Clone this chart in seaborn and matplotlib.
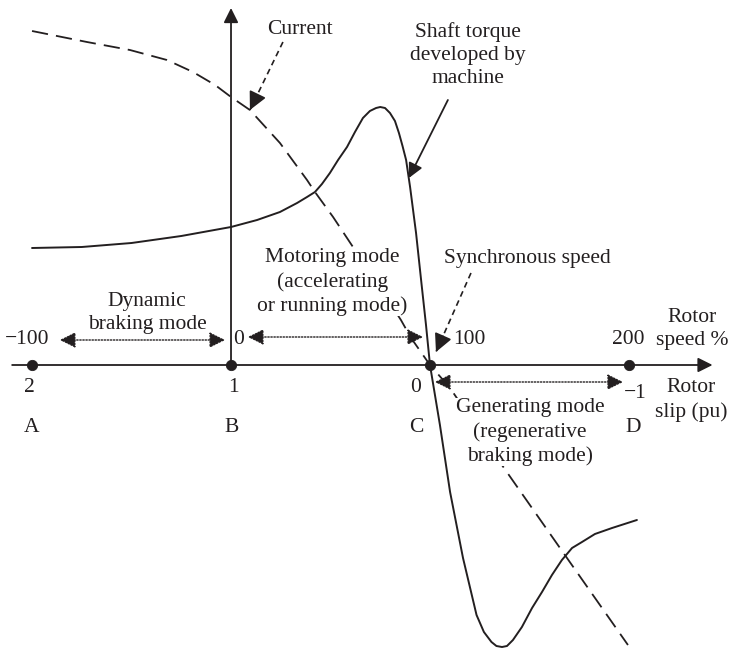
import numpy as np
import pandas as pd
import matplotlib
matplotlib.use('Agg')
import matplotlib.pyplot as plt
import seaborn as sns

# speed axis (% of synchronous) and the matching slip values
speed_ticks = [-100, 0, 100, 200]
speed_labels = ['\u2212100', '0', '100', '200']
slip_labels = ['2', '1', '0', '\u22121']
point_names = ['A', 'B', 'C', 'D']

# shaft torque (speed %, arbitrary units)
torque_speed = [-100, -75, -50, -25, 0, 13.1, 24.6, 33.2, 38.2, 42.2, 45.7, 49.7, 53.8,
                58.3, 62.3, 66.3, 69.8, 72.9, 75.0, 77.4, 79.9, 82.4, 84.4, 86.2, 88.0,
                90.0, 93.0, 95.7, 98.0, 100.0, 105.0, 110.1, 116.6, 123.4, 127.1, 130.9,
                133.4, 136.2, 138.7, 141.7, 146.2, 151.3, 156.3, 161.3, 166.3, 171.4,
                176.4, 182.9, 191.5, 204.0]
torque_value = [1.17, 1.18, 1.22, 1.29, 1.38, 1.45, 1.53, 1.62, 1.68, 1.73, 1.81, 1.92,
                2.05, 2.18, 2.33, 2.47, 2.54, 2.57, 2.58, 2.57, 2.52, 2.44, 2.32, 2.19,
                2.05, 1.78, 1.32, 0.82, 0.40, 0.0, -0.60, -1.27, -1.93, -2.50, -2.67,
                -2.77, -2.81, -2.82, -2.81, -2.75, -2.62, -2.43, -2.27, -2.10, -1.95,
                -1.83, -1.77, -1.69, -1.63, -1.55]

# stator current
current_speed = [-100, -72.4, -50.8, -32.2, -19.1, -8.0, 0, 9.5, 24.6, 38.2, 42.2, 51.3,
                 61.3, 68.3, 85.4, 90.5, 100.0, 110.1, 137.2, 167.8, 199.5]
current_value = [3.34, 3.23, 3.15, 3.05, 2.93, 2.80, 2.68, 2.55, 2.22, 1.85, 1.73, 1.48,
                 1.18, 0.98, 0.45, 0.27, 0.0, -0.23, -1.03, -1.90, -2.80]

torque = pd.DataFrame({'speed': torque_speed, 'value': torque_value})
current = pd.DataFrame({'speed': current_speed, 'value': current_value})
points = pd.DataFrame({'speed': speed_ticks, 'value': [0] * len(speed_ticks)})

sns.set_style('white')
plt.rcParams['font.family'] = ['Liberation Serif', 'DejaVu Serif']
ink = '#231f20'

fig = plt.figure(figsize=(7.36, 6.49), dpi=100)
ax = fig.add_axes([0, 0, 1, 1])
ax.set_xlim(-116.1, 253.8)
ax.set_ylim(-2.84, 3.65)
ax.axis('off')

sns.lineplot(data=torque, x='speed', y='value', sort=False, estimator=None,
             color=ink, lw=1.4, ax=ax, zorder=2)
sns.lineplot(data=current, x='speed', y='value', sort=False, estimator=None,
             color=ink, lw=1.3, ax=ax, zorder=2)
ax.lines[-1].set_dashes((9, 4.5))

# axes with arrow heads
ax.annotate('', xy=(242, 0), xytext=(-110, 0),
            arrowprops=dict(arrowstyle='-|>', color=ink, lw=1.3, mutation_scale=22,
                            shrinkA=0, shrinkB=0))
ax.annotate('', xy=(0, 3.57), xytext=(0, 0),
            arrowprops=dict(arrowstyle='-|>', color=ink, lw=1.3, mutation_scale=22,
                            shrinkA=0, shrinkB=0))
sns.scatterplot(data=points, x='speed', y='value', color=ink, s=55, ax=ax,
                zorder=5, edgecolor=ink)

fs = 15.5
txt = dict(color=ink, fontsize=fs, ha='center', va='center', linespacing=1.3)
box = dict(facecolor='white', edgecolor='none', pad=0.5)

# tick labels along the axis
speed_dx = [-2.5, 4, 20, -0.5]
slip_dx = [-1.5, 1, -7, 3]
slip_dy = [-0.22, -0.22, -0.23, -0.28]
name_dx = [-0.5, 0.5, -7, 2]
for i, v in enumerate(speed_ticks):
    ax.text(v + speed_dx[i], 0.25, speed_labels[i], **txt)
    ax.text(v + slip_dx[i], slip_dy[i], slip_labels[i], **txt)
    ax.text(v + name_dx[i], -0.62, point_names[i], **txt)

ax.text(231.7, 0.36, 'Rotor\nspeed %', **txt)
ax.text(231.2, -0.35, 'Rotor\nslip (pu)', **txt)

# mode regions
ax.text(-42.2, 0.52, 'Dynamic\nbraking mode', bbox=box, zorder=4, **txt)
ax.text(50.8, 0.83, 'Motoring mode\n(accelerating\nor running mode)', bbox=box,
        zorder=4, **txt)
ax.text(150.3, -0.67, 'Generating mode\n(regenerative\nbraking mode)', bbox=box,
        zorder=4, **txt)

dotted = dict(arrowstyle='<|-|>', color=ink, lw=1.0, linestyle=(0, (1, 1.2)),
              mutation_scale=24, shrinkA=0, shrinkB=0)
ax.annotate('', xy=(-3, 0.25), xytext=(-86, 0.25), arrowprops=dotted)
ax.annotate('', xy=(96.5, 0.28), xytext=(8.5, 0.28), arrowprops=dotted)
ax.annotate('', xy=(197, -0.17), xytext=(102.5, -0.17), arrowprops=dotted)


def dashed_callout(x0, y0, x1, y1):
    # dashed shaft plus a solid filled head at the tip
    ax.plot([x0, x1], [y0, y1], color=ink, lw=1.2, dashes=(3.5, 2.5))
    ax.annotate('', xy=(x1, y1), xytext=(x1 + (x0 - x1) * 0.2, y1 + (y0 - y1) * 0.2),
                arrowprops=dict(arrowstyle='-|>,head_length=0.5,head_width=0.25',
                                color=ink, lw=1.2, mutation_scale=22,
                                shrinkA=0, shrinkB=0))


# callouts
ax.text(34.7, 3.36, 'Current', **txt)
dashed_callout(26.1, 3.23, 9.5, 2.55)
ax.text(119.1, 3.10, 'Shaft torque\ndeveloped by\nmachine', **txt)
ax.annotate('', xy=(89.4, 1.87), xytext=(109, 2.65),
            arrowprops=dict(arrowstyle='-|>', color=ink, lw=1.3,
                            mutation_scale=22, shrinkA=0, shrinkB=0))
ax.text(149.2, 1.07, 'Synchronous speed', **txt)
dashed_callout(120.6, 0.92, 103, 0.13)

fig.savefig('out.png', dpi=100)
